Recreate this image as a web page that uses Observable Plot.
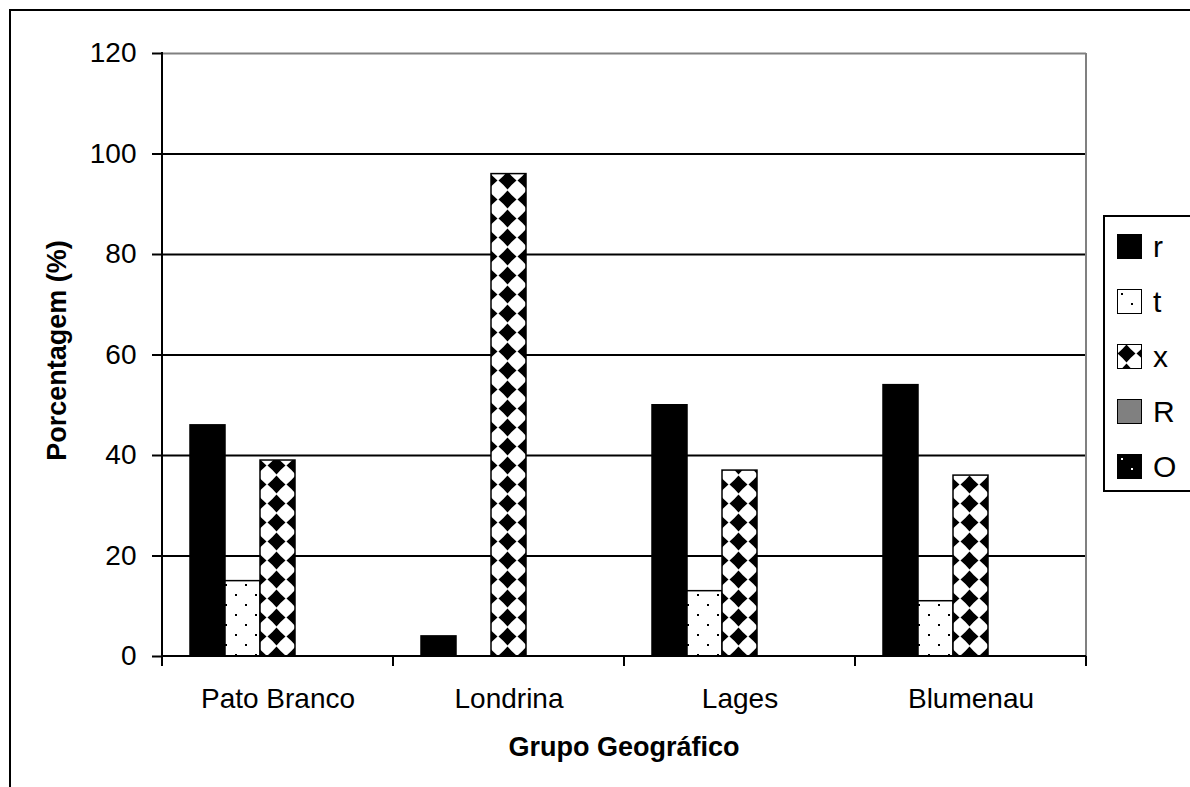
<!DOCTYPE html>
<html>
<head>
<meta charset="utf-8">
<script src="https://cdn.jsdelivr.net/npm/d3@7"></script>
<script src="https://cdn.jsdelivr.net/npm/@observablehq/plot@0.6"></script>
<style>
  html, body { margin: 0; padding: 0; background: #fff; overflow: hidden; width: 1190px; height: 787px; }
  #wrap { position: relative; width: 1190px; height: 787px; font-family: "Liberation Sans", Arial, sans-serif; }
  #frame { position: absolute; left: 9px; top: 9px; width: 1400px; height: 1000px; border: 2px solid #000; box-sizing: border-box; }
  #chart { position: absolute; left: 0; top: 0; }
  #legend { position: absolute; left: 1103px; top: 215px; width: 200px; height: 277px; border: 2px solid #000; box-sizing: border-box; background: #fff; }
  .item { position: absolute; left: 12px; height: 55px; display: flex; align-items: center; }
  .item span { font-size: 30px; margin-left: 11px; color: #000; }
</style>
</head>
<body>
<div id="wrap">
  <div id="frame"></div>
  <div id="chart"></div>
  <div id="legend"></div>
</div>
<script>
// Geographic groups and the five categories shown in each group
const groups = ["Pato Branco", "Londrina", "Lages", "Blumenau"];
const series = ["r", "t", "x", "R", "O"];

// Percentages per category, in the order of `groups`
const rValues = [46, 4, 50, 54];
const tValues = [15, 0, 13, 11];
const xValues = [39, 96, 37, 36];
const RValues = [0, 0, 0, 0];
const OValues = [0, 0, 0, 0];

const yTicks = [0, 20, 40, 60, 80, 100, 120];

const yLabel = "Porcentagem (%)";
const xLabel = "Grupo Geográfico";

// Fill style for each category (solid colours and hatch patterns)
const fillOf = {
  r: "#000000",
  t: "url(#pat-t)",
  x: "url(#pat-x)",
  R: "#808080",
  O: "url(#pat-o)"
};

const valuesBySeries = { r: rValues, t: tValues, x: xValues, R: RValues, O: OValues };
const rows = groups.flatMap((g, i) =>
  series.map(s => ({ group: g, series: s, value: valuesBySeries[s][i] }))
);

const font = "'Liberation Sans', Arial, sans-serif";

const chart = Plot.plot({
  width: 1190,
  height: 787,
  marginLeft: 161,
  marginRight: 104,
  marginTop: 53,
  marginBottom: 131,
  style: { fontFamily: font, background: "none", overflow: "visible", color: "#000" },
  fx: { domain: groups, padding: 0, axis: null },
  x: { domain: series, paddingInner: 0, paddingOuter: 0.71, axis: null },
  y: { domain: [0, 120], axis: null },
  color: { type: "identity" },
  marks: [
    Plot.ruleY(yTicks.filter(v => v > 0 && v < 120), { stroke: "#000", strokeWidth: 2 }),
    Plot.ruleY([120], { stroke: "#808080", strokeWidth: 2 }),
    Plot.barY(rows, {
      fx: "group",
      x: "series",
      y: "value",
      fill: d => fillOf[d.series],
      stroke: "#000",
      strokeWidth: 1.5
    }),
    Plot.axisY(yTicks, {
      facetAnchor: "left",
      tickSize: 10,
      tickPadding: 16,
      fontSize: 28,
      strokeWidth: 2,
      label: null
    }),
    Plot.axisFx({
      anchor: "bottom",
      tickSize: 0,
      tickPadding: 32,
      fontSize: 28,
      label: null
    })
  ]
});

document.getElementById("chart").appendChild(chart);

// Patterns, axis lines, boundary ticks and axis titles
const svg = d3.select(chart);
const defs = svg.insert("defs", ":first-child");

const pt = defs.append("pattern").attr("id", "pat-t").attr("patternUnits", "userSpaceOnUse")
  .attr("width", 20).attr("height", 20);
pt.append("rect").attr("width", 20).attr("height", 20).attr("fill", "#fff");
pt.append("rect").attr("x", 4).attr("y", 4).attr("width", 2).attr("height", 2).attr("fill", "#000");
pt.append("rect").attr("x", 14).attr("y", 14).attr("width", 2).attr("height", 2).attr("fill", "#000");

const px = defs.append("pattern").attr("id", "pat-x").attr("patternUnits", "userSpaceOnUse")
  .attr("width", 19).attr("height", 19);
px.append("rect").attr("width", 19).attr("height", 19).attr("fill", "#fff");
px.append("path").attr("fill", "#000")
  .attr("d", "M9.5,0.5 Q13.6,5.4 18.5,9.5 Q13.6,13.6 9.5,18.5 Q5.4,13.6 0.5,9.5 Q5.4,5.4 9.5,0.5 Z");

const po = defs.append("pattern").attr("id", "pat-o").attr("patternUnits", "userSpaceOnUse")
  .attr("width", 20).attr("height", 20);
po.append("rect").attr("width", 20).attr("height", 20).attr("fill", "#000");
po.append("rect").attr("x", 4).attr("y", 4).attr("width", 2).attr("height", 2).attr("fill", "#fff");
po.append("rect").attr("x", 14).attr("y", 14).attr("width", 2).attr("height", 2).attr("fill", "#fff");

const fx = chart.scale("fx");
const y = chart.scale("y");
const left = fx.apply(groups[0]);
const right = fx.apply(groups[groups.length - 1]) + fx.bandwidth;
const y0 = y.apply(0);
const yTop = y.apply(120);

const g = svg.append("g");
// plot-area right border
g.append("line").attr("x1", right).attr("x2", right).attr("y1", yTop).attr("y2", y0)
  .attr("stroke", "#808080").attr("stroke-width", 2);
// axis lines
g.append("line").attr("x1", left).attr("x2", left).attr("y1", yTop - 1).attr("y2", y0 + 1)
  .attr("stroke", "#000").attr("stroke-width", 2);
g.append("line").attr("x1", left).attr("x2", right).attr("y1", y0).attr("y2", y0)
  .attr("stroke", "#000").attr("stroke-width", 2);
// category boundary ticks
const edges = groups.map(d => fx.apply(d)).concat([right]);
g.selectAll("line.edge").data(edges).join("line").attr("class", "edge")
  .attr("x1", d => d).attr("x2", d => d).attr("y1", y0).attr("y2", y0 + 10)
  .attr("stroke", "#000").attr("stroke-width", 2);

// axis titles
svg.append("text")
  .attr("x", (left + right) / 2).attr("y", 756)
  .attr("text-anchor", "middle")
  .attr("font-family", font).attr("font-weight", "bold").attr("font-size", 27)
  .attr("fill", "#000")
  .text(xLabel);
svg.append("text")
  .attr("transform", `translate(66,${(yTop + y0) / 2 - 4}) rotate(-90)`)
  .attr("text-anchor", "middle")
  .attr("font-family", font).attr("font-weight", "bold").attr("font-size", 27)
  .attr("fill", "#000")
  .text(yLabel);

// legend
const legend = d3.select("#legend");
series.forEach((s, i) => {
  const item = legend.append("div").attr("class", "item").style("top", (2 + i * 55) + "px");
  const sw = item.append("svg").attr("width", 25).attr("height", 25);
  sw.append("rect").attr("x", 0.5).attr("y", 0.5).attr("width", 24).attr("height", 24)
    .attr("fill", fillOf[s]).attr("stroke", "#000").attr("stroke-width", 1);
  item.append("span").text(s);
});
</script>
</body>
</html>
